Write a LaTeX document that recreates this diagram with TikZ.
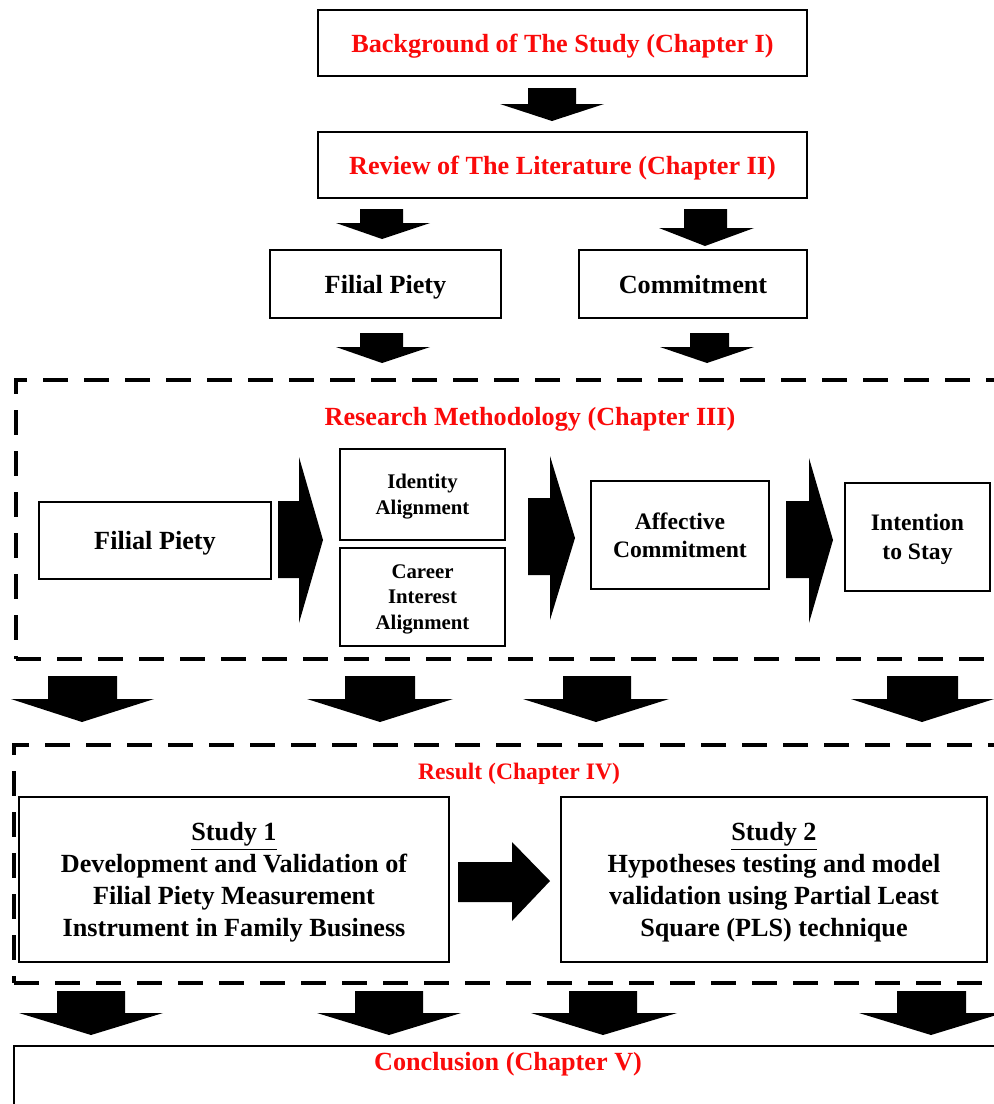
\documentclass[tikz,border=0pt]{standalone}
\usepackage{fontspec}
\setmainfont{Liberation Serif}

\definecolor{titlered}{RGB}{250,10,10}

% font sizes used in the flow chart
\newcommand{\fsMain}{\fontsize{13.1}{16}\selectfont\bfseries}
\newcommand{\fsMid}{\fontsize{11.8}{14.3}\selectfont\bfseries}
\newcommand{\fsSmall}{\fontsize{10.4}{12.8}\selectfont\bfseries}

% box given by its corners: style, x1, y1, x2, y2, name, text
\newcommand{\cornerbox}[7]{%
  \node[#1, minimum width={(#4-#2)*0.5pt}, minimum height={(#5-#3)*0.5pt}]
    (#6) at ({(#2+#4)/2},{(#3+#5)/2}) {#7};}
% downward block arrow: shaft left/right, head left/right, tip x, top y, head y, tip y
\newcommand{\dnblock}[8]{%
  \fill (#1,#6) -- (#2,#6) -- (#2,#7) -- (#4,#7) -- (#5,#8) -- (#3,#7) -- (#1,#7) -- cycle;}
% rightward block arrow: shaft left x, head x, tip x, shaft top/bottom, head top/bottom, tip y
\newcommand{\rtblock}[8]{%
  \fill (#1,#4) -- (#2,#4) -- (#2,#6) -- (#3,#8) -- (#2,#7) -- (#2,#5) -- (#1,#5) -- cycle;}

\tikzset{
  box/.style={draw, line width=1.2pt, inner sep=0pt, align=center, font=\fsMain, text depth=0pt},
  redbox/.style={box, text=titlered},
  midbox/.style={box, font=\fsMid},
  smallbox/.style={box, font=\fsSmall},
  dbox/.style={draw, line width=2pt, dash pattern=on 12.5pt off 8pt, inner sep=0pt},
  plainbox/.style={draw, line width=1.2pt, inner sep=0pt},
  ttl/.style={text=titlered, font=\fsMain, inner sep=0pt},
  ttlmid/.style={text=titlered, font=\fsMid, inner sep=0pt},
}

\begin{document}
\begin{tikzpicture}[x=0.5pt, y=-0.5pt]
\useasboundingbox (0,0) rectangle (994,1104);
\clip (0,0) rectangle (994,1104);

% literature part
\cornerbox{redbox}{318}{10}{807}{76}{bg}{Background of The Study (Chapter I)}
\cornerbox{redbox}{318}{132}{807}{198}{lit}{Review of The Literature (Chapter II)}
\cornerbox{box}{270}{250}{501}{318}{fp}{Filial Piety}
\cornerbox{box}{579}{250}{807}{318}{cm}{Commitment}

\dnblock{528}{576}{500}{604}{552}{88}{104}{121}
\dnblock{360}{403}{336}{430}{382}{209}{223}{239}
\dnblock{684}{727}{659}{754}{705}{209}{228}{246}
\dnblock{360}{403}{336}{430}{382}{333}{347}{363}
\dnblock{690}{729}{660}{754}{707}{333}{347}{363}

% methodology frame
\cornerbox{dbox}{16}{380}{1030}{659}{meth}{}
\node[ttl] (methttl) at (530,419) {Research Methodology (Chapter III)};
\cornerbox{box}{39}{502}{271}{579}{fp2}{Filial Piety}
\cornerbox{smallbox}{340}{449}{505}{540}{ia}{Identity\\Alignment}
\cornerbox{smallbox}{340}{548}{505}{646}{cia}{Career\\Interest\\Alignment}
\cornerbox{midbox}{591}{481}{769}{589}{ac}{Affective\\Commitment}
\cornerbox{midbox}{845}{483}{990}{591}{its}{Intention\\to Stay}

\rtblock{278}{299}{323}{501}{578}{457}{623}{540}
\rtblock{528}{550}{575}{498}{575}{456}{620}{538}
\rtblock{786}{809}{833}{501}{578}{458}{623}{540}

\dnblock{48}{117}{11}{154}{82}{676}{699}{722}
\dnblock{345}{415}{307}{453}{380}{676}{699}{722}
\dnblock{563}{631}{523}{669}{596}{676}{699}{722}
\dnblock{887}{958}{851}{994}{922}{676}{699}{722}

% result frame
\cornerbox{dbox}{14}{745}{1030}{983}{res}{}
\node[ttlmid] (resttl) at (519,774) {Result (Chapter IV)};
\cornerbox{box}{19}{797}{449}{962}{s1}{\underline{Study 1}\\Development and Validation of\\Filial Piety Measurement\\Instrument in Family Business}
\cornerbox{box}{561}{797}{987}{962}{s2}{\underline{Study 2}\\Hypotheses testing and model\\validation using Partial Least\\Square (PLS) technique}
\rtblock{458}{512}{550}{862}{902}{842}{921}{881}

\dnblock{57}{125}{19}{163}{91}{991}{1013}{1035}
\dnblock{355}{423}{317}{461}{389}{991}{1013}{1035}
\dnblock{569}{637}{531}{677}{603}{991}{1013}{1035}
\dnblock{897}{966}{859}{1003}{931}{991}{1013}{1035}

% conclusion
\cornerbox{plainbox}{14}{1046}{1030}{1130}{concl}{}
\node[ttl] (conclttl) at (508,1064) {Conclusion (Chapter V)};
\end{tikzpicture}
\end{document}
